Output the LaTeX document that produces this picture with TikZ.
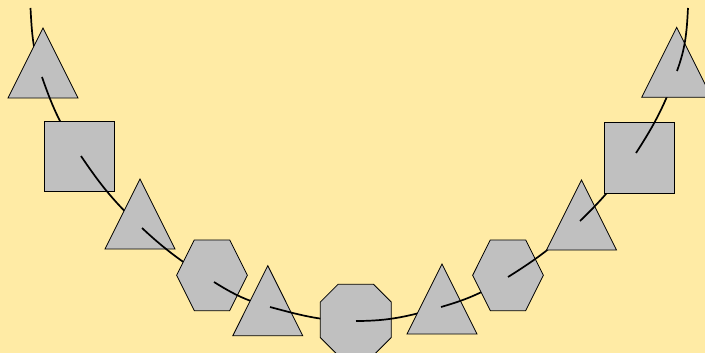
\documentclass[tikz,border=0pt]{standalone}
\usepackage{tikz}
\usetikzlibrary{shapes.geometric,shapes.misc}

\definecolor{bgyellow}{RGB}{255,235,165}
\definecolor{beadgray}{RGB}{192,192,192}

\begin{document}
\begin{tikzpicture}[x=1pt, y=-1pt,
    bead/.style={draw=black, fill=beadgray, line width=0.8pt, inner sep=0pt, outer sep=0pt},
    tri/.style={bead, regular polygon, regular polygon sides=3, minimum size=80.8pt, yscale=1.155},
    sq/.style={bead, rectangle, minimum size=70.7pt},
    hex/.style={bead, regular polygon, regular polygon sides=6, minimum size=70.7pt, yscale=1.155},
    oct/.style={bead, chamfered rectangle, inner sep=26.6pt, chamfered rectangle xsep=8.9pt, chamfered rectangle ysep=8.9pt},
    string/.style={line width=1.7pt}]

  \fill[bgyellow] (0,0) rectangle (705,353);
  \useasboundingbox (0,0) rectangle (705,353);

  % points of the string
  \coordinate (c0) at (30.5,8);
  \coordinate (c1) at (42,77);
  \coordinate (c2) at (81,156);
  \coordinate (c3) at (142,228);
  \coordinate (c4) at (214,282);
  \coordinate (c5) at (270,307);
  \coordinate (c6) at (356,321);
  \coordinate (c7) at (441,307);
  \coordinate (c8) at (508,277);
  \coordinate (c9) at (580,221);
  \coordinate (c10) at (636,153);
  \coordinate (c11) at (677,71);
  \coordinate (c12) at (688,8);

  % beads, each one over the string coming in
  \draw[string] (c0) to[out=-87, in=109] (c1);
  \node[tri] (t1) at (43,74.7) {};
  \draw[string] (c1) to[out=-71, in=124] (c2);
  \node[sq] (s1) at (79.5,156.5) {};
  \draw[string] (c2) to[out=-56, in=137] (c3);
  \node[tri] (t2) at (140,225.7) {};
  \draw[string] (c3) to[out=-43, in=148] (c4);
  \node[hex] (h1) at (212,275.3) {};
  \draw[string] (c4) to[out=-32, in=165] (c5);
  \node[tri] (t3) at (267.8,312.4) {};
  \draw[string] (c5) to[out=-15, in=180] (c6);
  \node[oct] (o1) at (355.8,319.8) {};
  \draw[string] (c6) to[out=0, in=196] (c7);
  \node[tri] (t4) at (442,310.7) {};
  \draw[string] (c7) to[out=16, in=212] (c8);
  \node[hex] (h2) at (508,275.3) {};
  \draw[string] (c8) to[out=32, in=224] (c9);
  \node[tri] (t5) at (581.5,226.7) {};
  \draw[string] (c9) to[out=44, in=237] (c10);
  \node[sq] (s2) at (639.3,157.8) {};
  \draw[string] (c10) to[out=57, in=250] (c11);
  \node[tri] (t6) at (676.7,74) {};
  \draw[string] (c11) to[out=70, in=267] (c12);

\end{tikzpicture}
\end{document}
